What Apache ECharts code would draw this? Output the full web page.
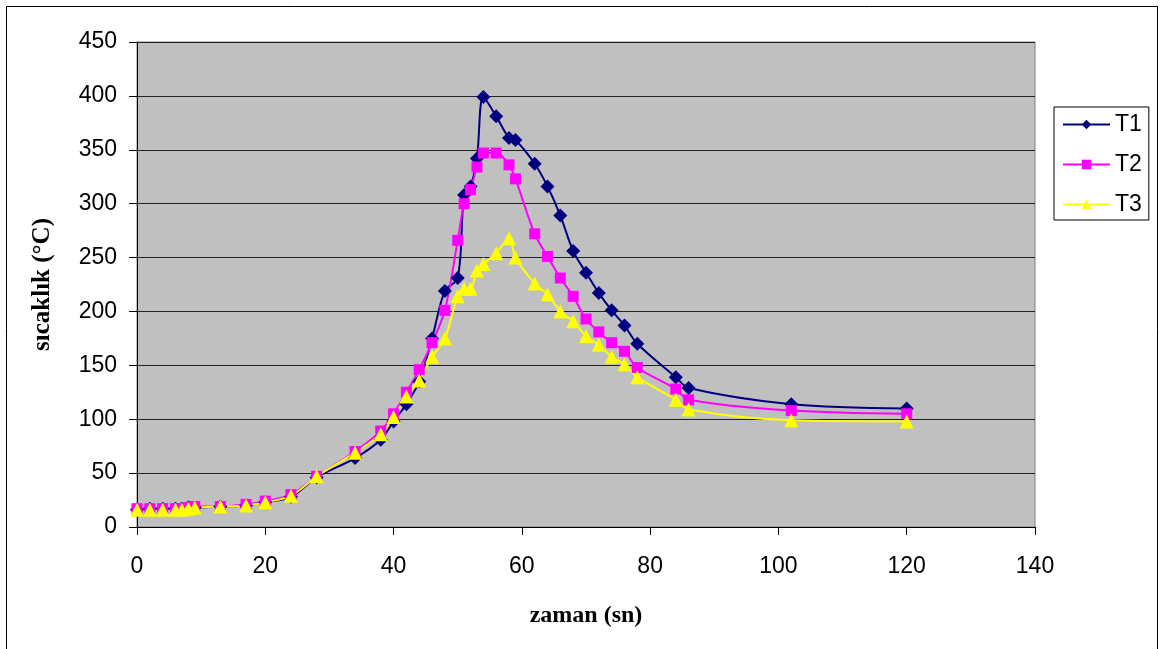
<!DOCTYPE html>
<html>
<head>
<meta charset="utf-8">
<title>sıcaklık - zaman</title>
<script src="https://cdn.jsdelivr.net/npm/echarts@6/dist/echarts.min.js"></script>
<style>
  html, body { margin: 0; padding: 0; background: #ffffff; }
  #chart { width: 1160px; height: 649px; }
</style>
</head>
<body>
<div id="chart"></div>
<script>
// Measurement times (s)
const zaman = [0, 2, 4, 6, 7, 8, 9, 13, 17, 20, 24, 28, 34, 38, 40, 42, 44, 46, 48, 50,
  51, 52, 53, 54, 56, 58, 59, 62, 64, 66, 68, 70, 72, 74, 76, 78, 84, 86, 102, 120];

// Thermocouple readings (°C)
const T1 = [16, 17, 17, 17, 17, 18, 18, 19, 20, 23, 28, 46, 64, 81, 98, 114, 135, 175, 219, 231,
  308, 316, 342, 399, 381, 361, 359, 337, 316, 289, 256, 236, 217, 201, 187, 170, 139, 129, 114, 110];
const T2 = [17, 17, 17, 17, 17, 18, 19, 19, 21, 24, 30, 47, 70, 89, 105, 125, 146, 171, 201, 266,
  300, 313, 334, 347, 347, 336, 323, 272, 251, 231, 214, 193, 181, 171, 163, 148, 128, 118, 108, 105];
const T3 = [16, 16, 16, 16, 16, 17, 18, 19, 20, 23, 29, 47, 69, 86, 102, 121, 136, 158, 175, 214,
  221, 221, 238, 244, 254, 268, 250, 226, 216, 200, 191, 177, 169, 158, 151, 139, 118, 109, 99, 98];

const seriesNames = ['T1', 'T2', 'T3'];
const xTitle = 'zaman (sn)';
const yTitle = 'sıcaklık (°C)';

const pairs = vals => zaman.map((t, i) => [t, vals[i]]);

const chart = echarts.init(document.getElementById('chart'), null, { renderer: 'canvas' });

const lineSeries = (name, vals, color, symbol, size) => ({
  name: name,
  type: 'line',
  data: pairs(vals),
  smooth: 0.33,
  symbol: symbol,
  symbolSize: size,
  showAllSymbol: true,
  lineStyle: { color: color, width: 2 },
  itemStyle: { color: color, borderWidth: 0 },
  emphasis: { disabled: true },
  animation: false
});

chart.setOption({
  animation: false,
  backgroundColor: '#ffffff',
  graphic: [{
    type: 'rect',
    shape: { x: 6.5, y: 6.5, width: 1151, height: 660 },
    style: { fill: 'none', stroke: '#000000', lineWidth: 1 },
    z: -1
  }],
  grid: {
    left: 137, right: 125, top: 42, bottom: 122,
    show: true,
    backgroundColor: '#C0C0C0',
    borderColor: '#808080',
    borderWidth: 1
  },
  legend: {
    orient: 'vertical',
    left: 1054,
    top: 107,
    padding: [6, 7, 4, 8],
    itemGap: 17,
    itemWidth: 47,
    itemHeight: 12,
    borderColor: '#000000',
    borderWidth: 1,
    backgroundColor: '#ffffff',
    textStyle: { fontFamily: 'Liberation Sans, Arial, sans-serif', fontSize: 23, color: '#000' },
    data: seriesNames
  },
  xAxis: {
    type: 'value',
    min: 0, max: 140, interval: 20,
    name: xTitle,
    nameLocation: 'middle',
    nameGap: 77,
    nameTextStyle: { fontFamily: 'Liberation Serif, Times New Roman, serif', fontWeight: 'bold', fontSize: 24, color: '#000' },
    axisLine: { onZero: false, lineStyle: { color: '#000', width: 1 } },
    axisTick: { show: true, inside: false, length: 8, lineStyle: { color: '#000' } },
    axisLabel: { margin: 28, fontFamily: 'Liberation Sans, Arial, sans-serif', fontSize: 23, color: '#000' },
    splitLine: { show: false }
  },
  yAxis: {
    type: 'value',
    min: 0, max: 450, interval: 50,
    name: yTitle,
    nameLocation: 'middle',
    nameGap: 82,
    nameRotate: 90,
    nameTextStyle: { fontFamily: 'Liberation Serif, Times New Roman, serif', fontWeight: 'bold', fontSize: 25, color: '#000' },
    axisLine: { show: true, onZero: false, lineStyle: { color: '#000', width: 1 } },
    axisTick: { show: true, inside: false, length: 8, lineStyle: { color: '#000' } },
    axisLabel: { margin: 20, fontFamily: 'Liberation Sans, Arial, sans-serif', fontSize: 23, color: '#000' },
    splitLine: { show: true, lineStyle: { color: '#222222', width: 1 } }
  },
  series: [
    lineSeries('T1', T1, '#000080', 'diamond', 14),
    lineSeries('T2', T2, '#FF00FF', 'rect', 11),
    lineSeries('T3', T3, '#FFFF00', 'triangle', 14)
  ]
});
</script>
</body>
</html>
